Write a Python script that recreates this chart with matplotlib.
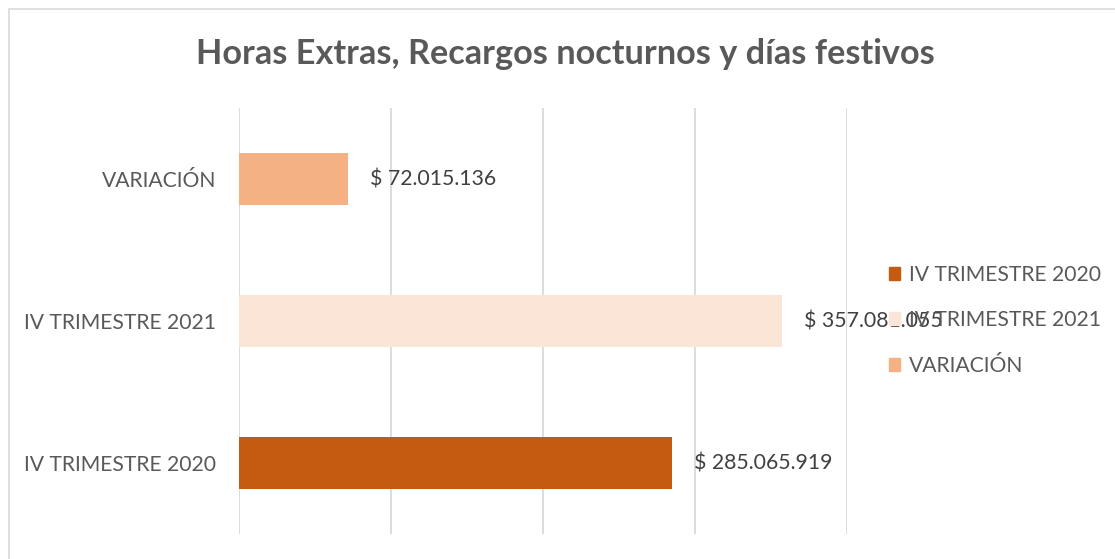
"""
Horas extras, recargos nocturnos y dias festivos: comparativo IV trimestre.
"""

import matplotlib.pyplot as plt
from matplotlib.patches import Rectangle

# ==============================
# DATA
# ==============================
CATEGORIES = ["IV TRIMESTRE 2020", "IV TRIMESTRE 2021", "VARIACIÓN"]
VALUES = [285065919, 357081055, 72015136]
COLORS = ["#C55A11", "#FBE5D6", "#F4B183"]
TITLE = "Horas Extras, Recargos nocturnos y días festivos"

TEXT_COLOR = "#595959"
GRID_COLOR = "#D9D9D9"
FONT = ["Lato", "DejaVu Sans"]


def money(v):
    return "$ " + f"{v:,.0f}".replace(",", ".")


def plot_chart(output_file):
    plt.rcParams["font.family"] = FONT
    fig = plt.figure(figsize=(11.15, 5.59), dpi=100)
    ax = fig.add_axes([0.2143, 0.0447, 0.5453, 0.7621])

    positions = range(len(CATEGORIES))
    bars = ax.barh(positions, VALUES, height=0.36, color=COLORS, zorder=3)

    ax.set_xlim(0, 400000000)
    ax.set_ylim(-0.5, 2.5)
    ax.set_xticks([0, 100000000, 200000000, 300000000, 400000000])
    ax.set_xticklabels([])
    ax.tick_params(axis="x", length=0)
    ax.tick_params(axis="y", length=0, pad=16.5, labelsize=15.2, labelcolor=TEXT_COLOR)
    ax.set_yticks(list(positions))
    ax.set_yticklabels(CATEGORIES)
    ax.grid(axis="x", color=GRID_COLOR, linewidth=1.3, zorder=0)
    for side in ax.spines.values():
        side.set_visible(False)

    for bar, v in zip(bars, VALUES):
        ax.annotate(money(v), (bar.get_width(), bar.get_y() + bar.get_height() / 2),
                    xytext=(22, 0), textcoords="offset pixels",
                    va="center", ha="left", fontsize=15.3, color="#404040", zorder=5)

    fig.text(0.507, 0.903, TITLE, ha="center", va="center", fontsize=24.7,
             fontweight="bold", color=TEXT_COLOR)

    handles = [Rectangle((0, 0), 1, 1, color=c) for c in COLORS]
    leg = fig.legend(handles, CATEGORIES, loc="center left",
                     bbox_to_anchor=(0.797, 0.427), frameon=False,
                     fontsize=15.2, labelcolor=TEXT_COLOR, handlelength=0.55,
                     handleheight=0.55, handletextpad=0.4, labelspacing=1.2,
                     borderpad=0, borderaxespad=0)
    leg.set_zorder(10)

    # chart frame (open at bottom and right, as in the source)
    fig.patches.append(Rectangle((8.5 / 1115, -0.1), 1.2, 1.1 - 8.5 / 559,
                                 transform=fig.transFigure, fill=False,
                                 edgecolor=GRID_COLOR, linewidth=1.2))

    fig.savefig(output_file, dpi=100)


if __name__ == "__main__":
    plot_chart("out.png")
